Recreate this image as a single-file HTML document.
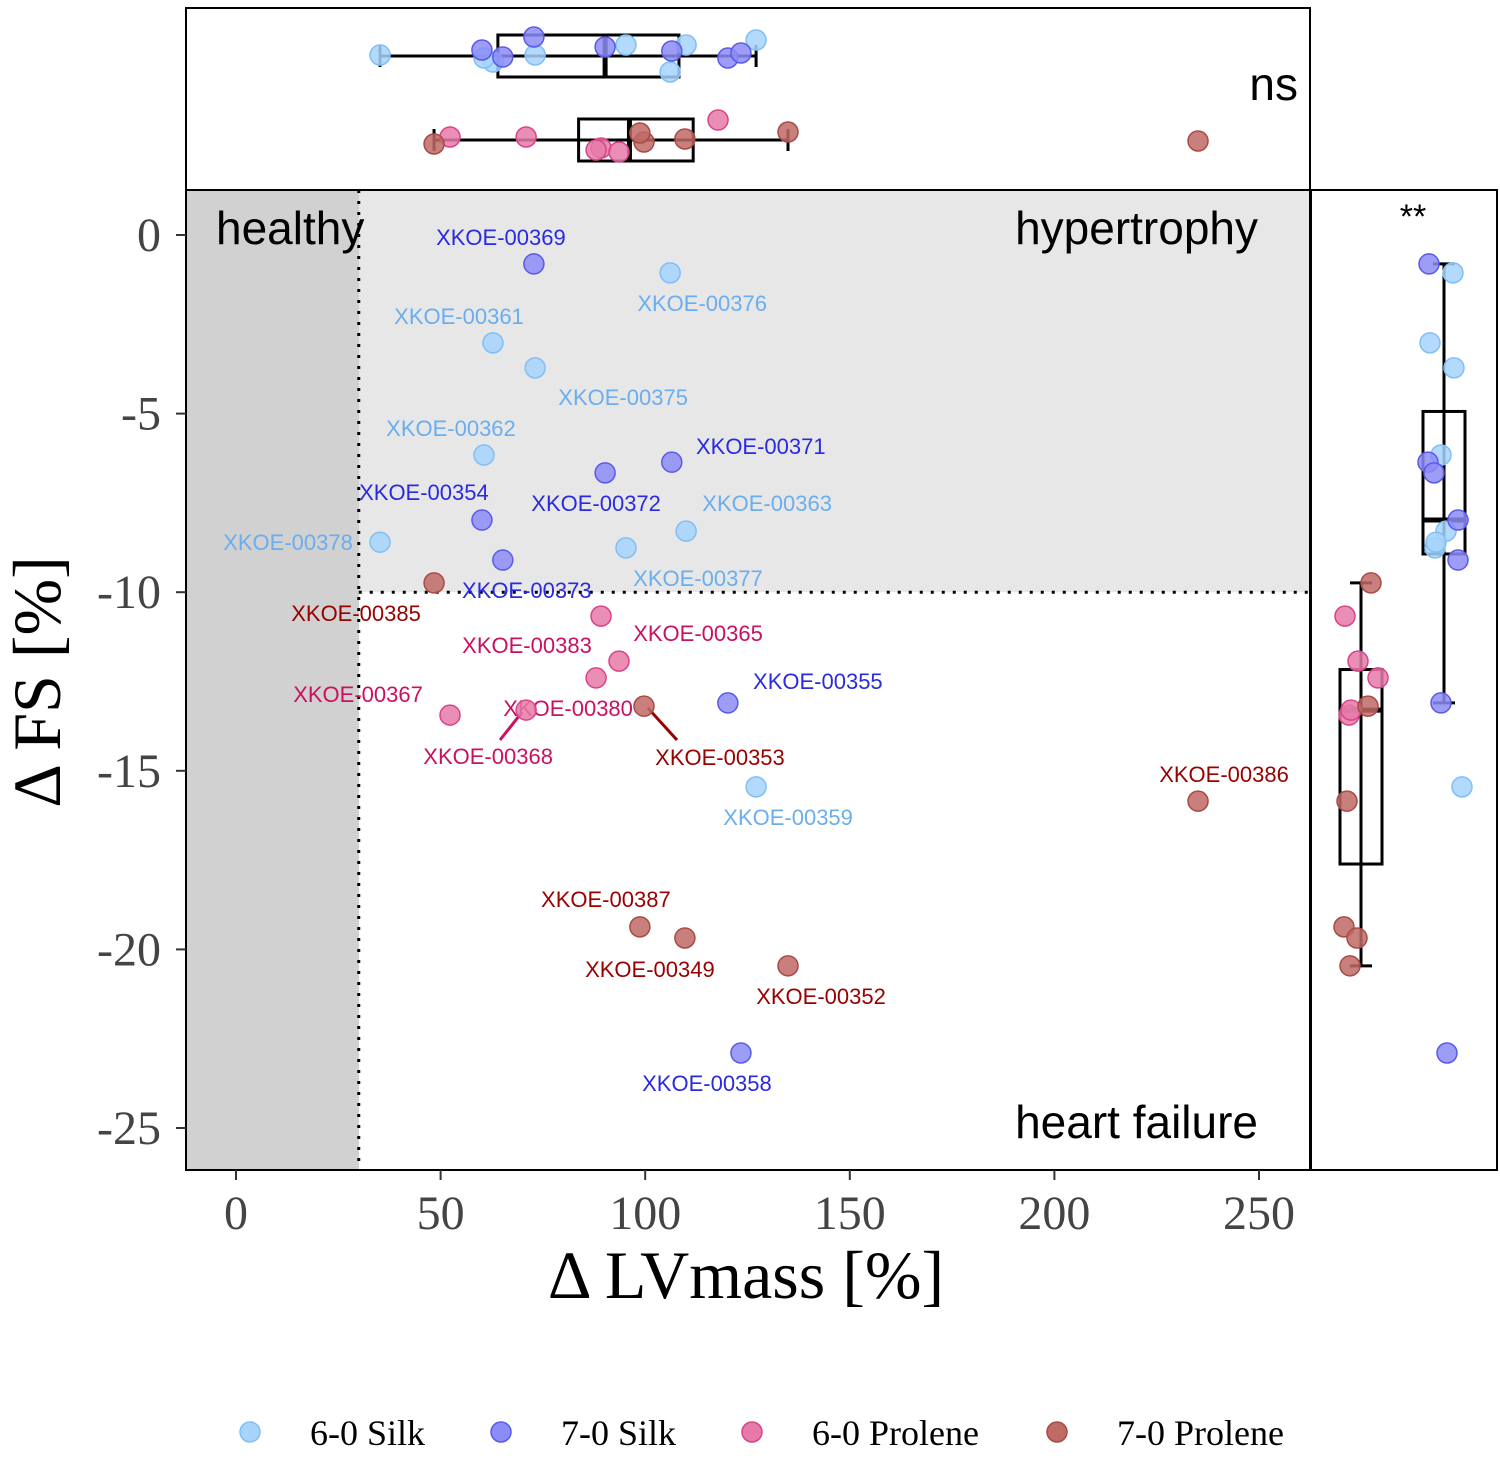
<!DOCTYPE html>
<html><head><meta charset="utf-8"><style>
body{margin:0;background:#fff}
svg text{font-family:"Liberation Sans",sans-serif}
.serif{font-family:"Liberation Serif",serif}
</style></head><body>
<svg id="c" width="1500" height="1454" xmlns="http://www.w3.org/2000/svg"></svg>
<script>
const groups=["6-0 Silk","7-0 Silk","6-0 Prolene","7-0 Prolene"];
const fills=["#a6d4fb","#8c8cf6","#e67aa8","#c06a66"];
const strokes=["#80bff5","#5a5ae8","#d8448a","#a84a45"];
const labelColors=["#6aaef0","#2a2ae0","#cc1060","#990000"];
const ids=["XKOE-00376","XKOE-00361","XKOE-00375","XKOE-00362","XKOE-00363","XKOE-00377","XKOE-00378","XKOE-00359",
"XKOE-00369","XKOE-00371","XKOE-00372","XKOE-00354","XKOE-00373","XKOE-00355","XKOE-00358",
"XKOE-00383","XKOE-00365","XKOE-00380","XKOE-00367","XKOE-00368","",
"XKOE-00385","XKOE-00353","XKOE-00386","XKOE-00387","XKOE-00349","XKOE-00352"];
const grp=[0,0,0,0,0,0,0,0,1,1,1,1,1,1,1,2,2,2,2,2,2,3,3,3,3,3,3];
const lvmass=[106.1,62.8,73.1,60.6,110,95.3,35.2,127.1,72.8,106.5,90.2,60.1,65.2,120.2,123.4,89.2,93.6,88,52.3,70.9,117.8,48.4,99.7,235.1,98.7,109.7,134.9];
const fs=[-1.06,-3.02,-3.72,-6.16,-8.29,-8.76,-8.6,-15.45,-0.81,-6.36,-6.66,-7.98,-9.10,-13.1,-22.9,-10.67,-11.93,-12.4,-13.44,-13.3,null,-9.74,-13.19,-15.85,-19.37,-19.68,-20.46];
const xTicks=[0,50,100,150,200,250];
const yTicks=[0,-5,-10,-15,-20,-25];
const ldx=[32,-34,88,-33,81,72,-92,32,-33,89,-9,-58,24,90,-34,-74,79,-28,-92,-38,0,-78,76,26,-34,-35,33,-34];
const ldy=[30,-27,29,-27,-28,30,0,30,-27,-16,30,-28,30,-22,30,29,-28,30,-21,46,0,30,51,-27,-28,31,30,30];
const topJit=[72,62,55,58,45,45,55,40,37,51,47,50,57,58,53,148,152,150,137,137,120,144,142,141,133,139,132];
const rightJit=[9,-14,10,-3,2,-9,-8,18,-15,-16,-10,14,14,-3,3,-16,-3,17,-12,-10,-8,10,7,-14,-17,-4,-11];
const NS="http://www.w3.org/2000/svg";
const svg=document.getElementById('c');
function el(t,a,txt){const e=document.createElementNS(NS,t);for(const k in a)e.setAttribute(k,a[k]);if(txt!==undefined)e.textContent=txt;svg.appendChild(e);return e;}
const X=v=>236+v*4.092, Y=v=>235-v*35.72;
let r=el('rect',{x:186,y:190,width:173,height:980,fill:'#d1d1d1'});
r=el('rect',{x:359,y:190,width:951,height:Y(-10)-190,fill:'#e7e7e7'});
el('line',{x1:X(30),y1:190,x2:X(30),y2:1170,stroke:'#000','stroke-width':3,'stroke-dasharray':'3,8'});
el('line',{x1:X(30),y1:Y(-10),x2:1310,y2:Y(-10),stroke:'#000','stroke-width':3,'stroke-dasharray':'3,8'});
el('rect',{x:186,y:190,width:1124,height:980,fill:'none',stroke:'#000','stroke-width':2});
el('rect',{x:186,y:8,width:1124,height:182,fill:'none',stroke:'#000','stroke-width':2});
el('rect',{x:1311,y:190,width:186,height:980,fill:'none',stroke:'#000','stroke-width':2});
xTicks.forEach(v=>{el('line',{x1:X(v),y1:1170,x2:X(v),y2:1180,stroke:'#333','stroke-width':2});
 let t=el('text',{x:X(v),y:1229,'text-anchor':'middle','font-size':48,fill:'#444',class:'serif'},String(v));});
yTicks.forEach(v=>{el('line',{x1:176,y1:Y(v),x2:186,y2:Y(v),stroke:'#333','stroke-width':2});
 let t=el('text',{x:161,y:Y(v)+16,'text-anchor':'end','font-size':48,fill:'#444',class:'serif'},String(v));});
let t=el('text',{x:746,y:1298,'text-anchor':'middle','font-size':68,class:'serif'},'Δ LVmass [%]');
t=el('text',{x:60,y:682,'text-anchor':'middle','font-size':68,class:'serif',transform:'rotate(-90 60 682)'},'Δ FS [%]');
[['healthy',216,244,'start'],['hypertrophy',1258,244,'end'],['heart failure',1258,1138,'end'],['ns',1298,100,'end']].forEach(a=>{let e=el('text',{x:a[1],y:a[2],'text-anchor':a[3],'font-size':46},a[0]);});
t=el('text',{x:1413,y:228,'text-anchor':'middle','font-size':34},'**');
function quant(a,q){a=[...a].sort((x,y)=>x-y);const p=(a.length-1)*q,i=Math.floor(p);return a[i]+(a[Math.min(i+1,a.length-1)]-a[i])*(p-i);}
function hbox(vals,cy){const q1=quant(vals,.25),m=quant(vals,.5),q3=quant(vals,.75),iqr=q3-q1;const lo=Math.min(...vals.filter(v=>v>=q1-1.5*iqr)),hi=Math.max(...vals.filter(v=>v<=q3+1.5*iqr));
 el('line',{x1:X(lo),y1:cy,x2:X(hi),y2:cy,stroke:'#000','stroke-width':3});
 [lo,hi].forEach(v=>el('line',{x1:X(v),y1:cy-11,x2:X(v),y2:cy+11,stroke:'#000','stroke-width':3}));
 let b=el('rect',{x:X(q1),y:cy-21,width:X(q3)-X(q1),height:42,fill:'none',stroke:'#000','stroke-width':3});
 el('line',{x1:X(m),y1:cy-21,x2:X(m),y2:cy+21,stroke:'#000','stroke-width':5});}
function vbox(vals,cx){const q1=quant(vals,.25),m=quant(vals,.5),q3=quant(vals,.75),iqr=q3-q1;const lo=Math.min(...vals.filter(v=>v>=q1-1.5*iqr)),hi=Math.max(...vals.filter(v=>v<=q3+1.5*iqr));
 el('line',{x1:cx,y1:Y(lo),x2:cx,y2:Y(hi),stroke:'#000','stroke-width':3});
 [lo,hi].forEach(v=>el('line',{x1:cx-11,y1:Y(v),x2:cx+11,y2:Y(v),stroke:'#000','stroke-width':3}));
 let b=el('rect',{x:cx-21,y:Y(q3),width:42,height:Y(q1)-Y(q3),fill:'none',stroke:'#000','stroke-width':3});
 el('line',{x1:cx-21,y1:Y(m),x2:cx+21,y2:Y(m),stroke:'#000','stroke-width':5});}
const silkX=lvmass.filter((v,i)=>grp[i]<2),proX=lvmass.filter((v,i)=>grp[i]>=2);
const silkY=fs.filter((v,i)=>grp[i]<2&&v!==null),proY=fs.filter((v,i)=>grp[i]>=2&&v!==null);
hbox(silkX,56);hbox(proX,140);vbox(proY,1361);vbox(silkY,1444);
el('line',{x1:X(lvmass[19])-4,y1:Y(fs[19])+2,x2:500,y2:740,stroke:'#cc1060','stroke-width':3});
el('line',{x1:X(lvmass[22])+4,y1:Y(fs[22])+2,x2:677,y2:740,stroke:'#990000','stroke-width':3});
lvmass.forEach((v,i)=>{const g=grp[i];
 let c=el('circle',{cx:X(v),cy:topJit[i],r:10,fill:fills[g],stroke:strokes[g],'stroke-width':1.5,'fill-opacity':0.85});
 if(fs[i]===null)return;
 c=el('circle',{cx:X(v),cy:Y(fs[i]),r:10,fill:fills[g],stroke:strokes[g],'stroke-width':1.5,'fill-opacity':0.85});
 c=el('circle',{cx:(g<2?1444:1361)+rightJit[i],cy:Y(fs[i]),r:10,fill:fills[g],stroke:strokes[g],'stroke-width':1.5,'fill-opacity':0.85});
 if(ids[i]){let l=el('text',{x:X(v)+ldx[i],y:Y(fs[i])+ldy[i]+8,'text-anchor':'middle','font-size':22,fill:labelColors[g]},ids[i]);}
});
const lx=[250,501,752,1057];
groups.forEach((gname,i)=>{let c=el('circle',{cx:lx[i],cy:1432,r:10,fill:fills[i],stroke:strokes[i],'stroke-width':1.5});
 let e=el('text',{x:lx[i]+60,y:1445,'font-size':36,class:'serif'},gname);});
</script>
</body></html>
